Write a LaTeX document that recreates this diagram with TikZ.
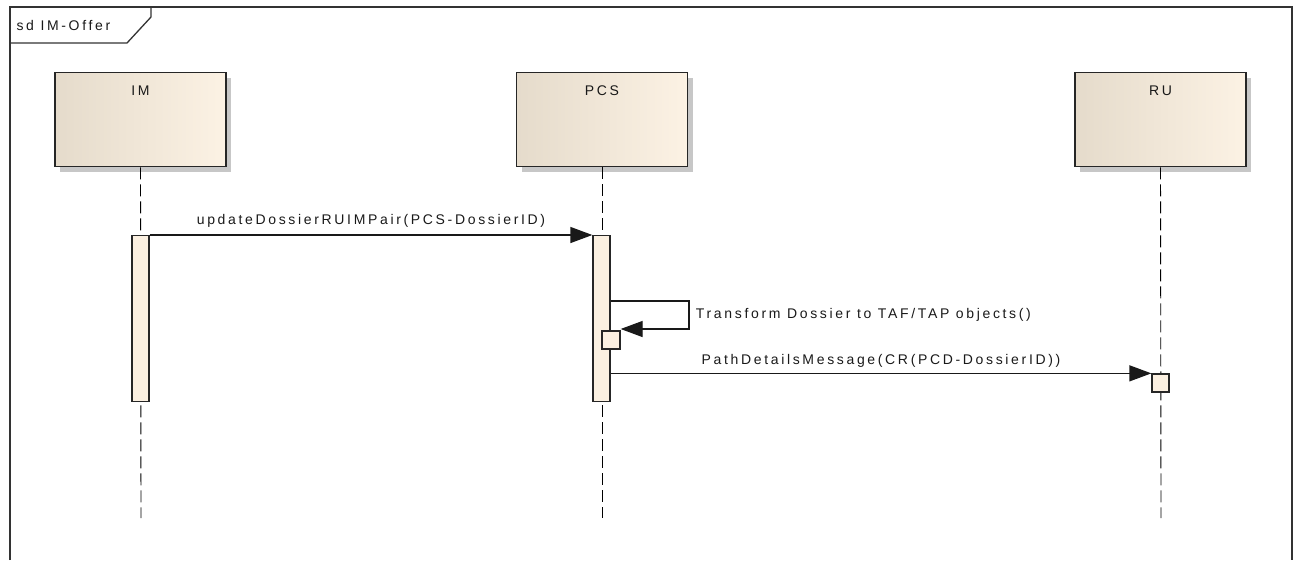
\documentclass[tikz,border=0pt]{standalone}
\usepackage{fontspec}
\setmainfont{Liberation Sans}[LetterSpace=19]
\usetikzlibrary{positioning}
\usetikzlibrary{arrows.meta}
\usetikzlibrary{shadows}

\definecolor{cabizq}{RGB}{229,219,203}
\definecolor{cabder}{RGB}{252,242,228}
\definecolor{actfondo}{RGB}{251,240,225}

\begin{document}
\begin{tikzpicture}[
        x=1pt, y=-1pt,
        every node/.style={font=\fontsize{14}{16}\selectfont, text=black!90},
        cabecera/.style={draw=black!85, line width=1.4pt, left color=cabizq, right color=cabder,
            minimum width=171pt, inner xsep=0pt, inner ysep=13pt, text height=10pt, text depth=58pt,
            drop shadow={shadow xshift=5pt, shadow yshift=-5pt, fill=black!22, opacity=1}},
        activacion/.style={draw=black!85, line width=1.3pt, fill=actfondo, inner sep=0pt},
        vida/.style={black, line width=0.9pt, dash pattern=on 12pt off 5pt},
        mensaje/.style={black!90, line width=1.3pt, -{Triangle[length=22pt,width=16pt]}}
    ]

        \useasboundingbox (0,0) rectangle (1295,560);

        % Marco del diagrama
        \draw[line width=1.5pt, black!80] (10,560) -- (10,7) -- (1292,7) -- (1292,560);
        \draw[line width=1.3pt, black!80] (10,43) -- (127,43) -- (151,17) -- (151,7);
        \node[anchor=west] (marco) at (13,25) {sd IM-Offer};

        % Cabeceras
        \node[cabecera, anchor=north] (im) at (140.5,72) {IM};
        \node[cabecera, anchor=north] (pcs) at (602,72) {PCS};
        \node[cabecera, anchor=north] (ru) at (1160.5,72) {RU};

        % Lineas de vida
        \coordinate (imfin) at (141,518);
        \coordinate (pcsfin) at (602,518);
        \coordinate (rufin) at (1161,518);
        \draw[vida] (im.south) -- (imfin);
        \draw[vida] (pcs.south) -- (pcsfin);
        \draw[vida] (ru.south) -- (rufin);

        % Activaciones
        \node[activacion, minimum width=17pt, minimum height=166pt, anchor=north] (imact) at (140.5,235) {};
        \node[activacion, minimum width=17pt, minimum height=166pt, anchor=north] (pcsact) at (601.5,235) {};
        \node[activacion, minimum width=18pt, minimum height=18pt] (pcsfoco) at (611,340) {};
        \node[activacion, minimum width=17pt, minimum height=18pt] (rufoco) at (1160.5,383) {};

        % Mensajes
        \draw[mensaje] (imact.north east) -- node[above=4pt] {updateDossierRUIMPair(PCS-DossierID)} (pcsact.north west);

        \draw[mensaje] (pcsact.east |- 0,301) -- (689,301)
            -- node[right=3pt] {Transform Dossier to TAF/TAP objects()} (689,329)
            -- (pcsfoco.north east |- 0,329);

        \draw[mensaje] (pcsact.east |- rufoco.north west) -- node[above=2pt] {PathDetailsMessage(CR(PCD-DossierID))} (rufoco.north west);

    \end{tikzpicture}
\end{document}
